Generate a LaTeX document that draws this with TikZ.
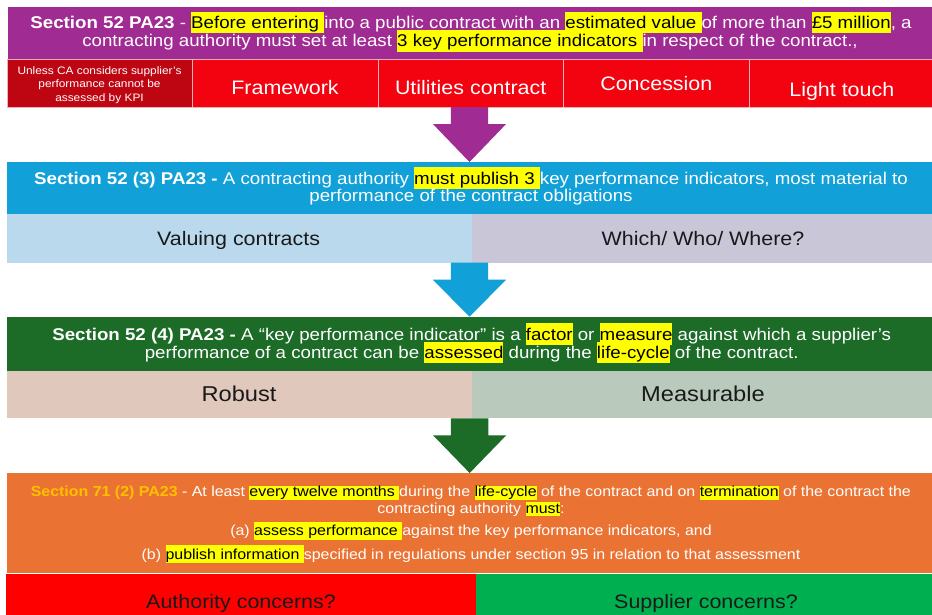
\documentclass[tikz,border=0pt]{standalone}
\usepackage{fontspec}
\setmainfont[FakeStretch=1.1]{Liberation Sans}
\usetikzlibrary{calc}
\definecolor{cPurple}{RGB}{160,43,147}
\definecolor{cDarkRed}{RGB}{190,6,18}
\definecolor{cRed}{RGB}{243,2,15}
\definecolor{cCellLine}{RGB}{236,178,184}
\definecolor{cBlue}{RGB}{17,160,215}
\definecolor{cLightBlue}{RGB}{186,217,236}
\definecolor{cLavender}{RGB}{201,198,216}
\definecolor{cGreen}{RGB}{28,107,38}
\definecolor{cRobust}{RGB}{224,201,188}
\definecolor{cMeasure}{RGB}{185,201,188}
\definecolor{cOrange}{RGB}{234,115,52}
\definecolor{cGold}{RGB}{255,192,0}
\definecolor{cBotRed}{RGB}{255,0,0}
\definecolor{cBotGreen}{RGB}{0,176,80}
\definecolor{cHl}{RGB}{255,255,0}
\definecolor{cDark}{RGB}{25,25,25}
\newcommand\hl[1]{{\setlength{\fboxsep}{0pt}\colorbox{cHl}{\rule[-0.3em]{0pt}{1.28em}\color{black}#1}}}
\newcommand\hlt[1]{{\setlength{\fboxsep}{0pt}\colorbox{cHl}{\rule[-0.2em]{0pt}{0.95em}\color{black}#1}}}
\newcommand\fs[1]{\fontsize{#1}{#1}\selectfont}
\newcommand\blockarrow[3]{%
  \fill[#3] let \p1=(#1), \p2=(#2) in
    (\x2-18.7pt,\y1) -- (\x2+18.7pt,\y1) -- (\x2+18.7pt,\y1-17pt) --
    (\x2+36.6pt,\y1-17pt) -- (\x2,\y2) -- (\x2-36.6pt,\y1-17pt) --
    (\x2-18.7pt,\y1-17pt) -- cycle;}
\tikzset{
  box/.style={rectangle, inner sep=0pt, outer sep=0pt},
  cell/.style={box, draw=cCellLine, line width=0.8pt},
  txt/.style={anchor=base, inner sep=0pt, outer sep=0pt},
}
\begin{document}
\begin{tikzpicture}[x=1pt,y=-1pt]
\useasboundingbox (0,0) rectangle (932,614);
% ---------- section 52 ----------
\node[box, fill=cPurple, minimum width=924.3pt, minimum height=52.5pt] (P) at (469.85,33.25) {};
\node[cell, fill=cDarkRed, minimum width=184.8pt, minimum height=47.5pt] (C1) at (100.1,83.25) {};
\node[cell, fill=cRed, minimum width=186pt, minimum height=47.5pt] (C2) at (285.5,83.25) {};
\node[cell, fill=cRed, minimum width=185pt, minimum height=47.5pt] (C3) at (471,83.25) {};
\node[cell, fill=cRed, minimum width=186pt, minimum height=47.5pt] (C4) at (656.5,83.25) {};
\node[cell, fill=cRed, minimum width=182.5pt, minimum height=47.5pt] (C5) at (840.75,83.25) {};

\node[txt, text=white] (p1) at (471,28.3) {\fs{17}\textbf{Section 52 PA23} - \hl{Before entering }into a public contract with an \hl{estimated value }of more than \hl{£5 million}, a};
\node[txt, text=white] (p2) at (470,46.7) {\fs{17}contracting authority must set at least \hl{3 key performance indicators }in respect of the contract.,};

\node[txt, text=white] (c1a) at (99.5,74) {\fs{10.8}Unless CA considers supplier's};
\node[txt, text=white] (c1b) at (99.5,87.5) {\fs{10.8}performance cannot be};
\node[txt, text=white] (c1c) at (99.5,101) {\fs{10.8}assessed by KPI};
\node[txt, text=white] (c2t) at (285,94) {\fs{19.5}Framework};
\node[txt, text=white] (c3t) at (470.7,94) {\fs{19.5}Utilities contract};
\node[txt, text=white] (c4t) at (656.3,90.7) {\fs{19.5}Concession};
\node[txt, text=white] (c5t) at (841.8,96) {\fs{19.5}Light touch};

% ---------- section 52 (3) ----------
\node[box, fill=cBlue, minimum width=925pt, minimum height=52.3pt] (B) at (469.5,188.15) {};
\node[box, fill=cLightBlue, minimum width=465pt, minimum height=48.4pt] (L1) at (239.5,238.5) {};
\node[box, fill=cLavender, minimum width=460pt, minimum height=48.4pt] (R1) at (702,238.5) {};
\node[txt, text=white] (b1) at (471,184) {\fs{17}\textbf{Section 52 (3) PA23 -} A contracting authority \hl{must publish 3 }key performance indicators, most material to};
\node[txt, text=white] (b2) at (471,201.7) {\fs{17}performance of the contract obligations};
\node[txt, text=cDark] (l1t) at (238.6,245.7) {\fs{19.5}Valuing contracts};
\node[txt, text=cDark] (r1t) at (703,245.7) {\fs{19.5}Which/ Who/ Where?};

% ---------- section 52 (4) ----------
\node[box, fill=cGreen, minimum width=925pt, minimum height=53.8pt] (G) at (469.5,343.6) {};
\node[box, fill=cRobust, minimum width=465pt, minimum height=47.8pt] (L2) at (239.5,394.4) {};
\node[box, fill=cMeasure, minimum width=460pt, minimum height=47.8pt] (R2) at (702,394.4) {};
\node[txt, text=white] (g1) at (471.7,340) {\fs{17}\textbf{Section 52 (4) PA23 -} A “key performance indicator” is a \hl{factor} or \hl{measure} against which a supplier’s};
\node[txt, text=white] (g2) at (471.7,358.3) {\fs{17}performance of a contract can be \hl{assessed} during the \hl{life-cycle} of the contract.};
\node[txt, text=cDark] (l2t) at (239,401.7) {\fs{21.5}Robust};
\node[txt, text=cDark] (r2t) at (703,401.7) {\fs{21.5}Measurable};

% ---------- section 71 (2) ----------
\node[box, fill=cOrange, minimum width=924.7pt, minimum height=100pt] (O) at (469.65,523) {};
\node[box, fill=cBotRed, minimum width=469.7pt, minimum height=66.3pt] (L3) at (240.85,606.85) {};
\node[box, fill=cBotGreen, minimum width=456.3pt, minimum height=66.3pt] (R3) at (703.85,606.85) {};
\node[txt, text=white] (o1) at (470.8,496.7) {\fs{14.5}{\color{cGold}\textbf{Section 71 (2) PA23}} - At least \hlt{every twelve months }during the \hlt{life-cycle} of the contract and on \hlt{termination} of the contract the};
\node[txt, text=white] (o2) at (471,513.3) {\fs{14.5}contracting authority \hlt{must}:};
\node[txt, text=white] (o3) at (471,535.7) {\fs{14.5}(a) \hl{assess performance }against the key performance indicators, and};
\node[txt, text=white] (o4) at (471,559) {\fs{14.5}(b) \hl{publish information }specified in regulations under section 95 in relation to that assessment};
\node[txt, text=cDark] (l3t) at (241,608.3) {\fs{19.5}Authority concerns?};
\node[txt, text=cDark] (r3t) at (706,608.3) {\fs{19.5}Supplier concerns?};

% ---------- arrows ----------
\blockarrow{C3.south}{B.north}{cPurple}
\blockarrow{L1.south east}{G.north}{cBlue}
\blockarrow{L2.south east}{O.north}{cGreen}
\end{tikzpicture}
\end{document}
